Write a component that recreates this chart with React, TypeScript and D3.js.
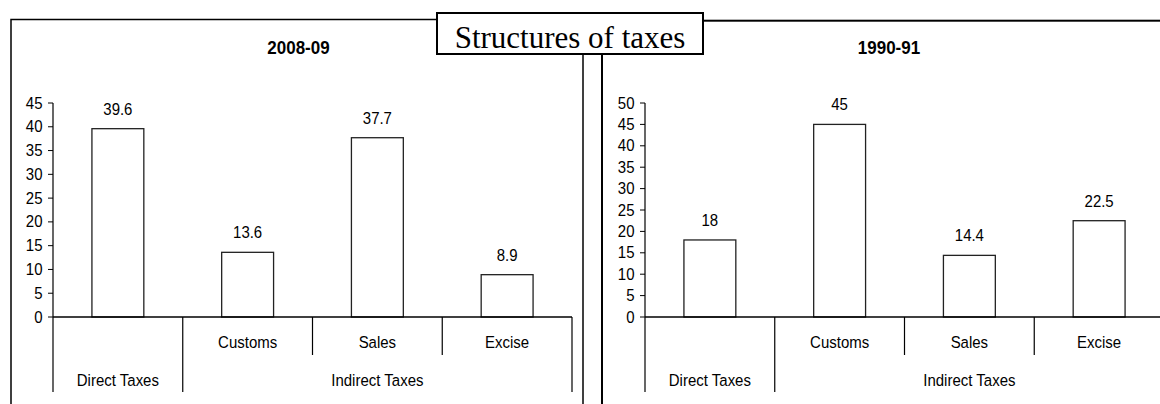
import React from "react";
import * as d3 from "d3";

const categories = ["Direct Taxes", "Customs", "Sales", "Excise"];
const subLabels = ["", "Customs", "Sales", "Excise"];
const groups = [
  { label: "Direct Taxes", from: 0, to: 0 },
  { label: "Indirect Taxes", from: 1, to: 3 },
];
const values2008 = [39.6, 13.6, 37.7, 8.9];
const values1990 = [18, 45, 14.4, 22.5];
const ticks2008 = [0, 5, 10, 15, 20, 25, 30, 35, 40, 45];
const ticks1990 = [0, 5, 10, 15, 20, 25, 30, 35, 40, 45, 50];
const mainTitle = "Structures of taxes";
const panelTitles = ["2008-09", "1990-91"];

const SANS = "'Liberation Sans', Arial, sans-serif";
const SERIF = "'Liberation Serif', 'Times New Roman', serif";

function T({ x, y, size = 15, bold = false, anchor = "middle", sy = 1.1, children }: any) {
  return (
    <text
      transform={`translate(${x},${y}) scale(1,${sy})`}
      fontFamily={SANS}
      fontSize={size}
      fontWeight={bold ? "bold" : "normal"}
      textAnchor={anchor}
      fill="#000"
    >
      {children}
    </text>
  );
}

function Chart({ axisX, values, ticks, title, titleX }: any) {
  const zeroY = 317;
  const topY = 103;
  const width = 519;
  const maxV = ticks[ticks.length - 1];
  const x = d3.scaleBand<string>().domain(categories).range([axisX, axisX + width]).paddingInner(0.6).paddingOuter(0.3);
  const y = d3.scaleLinear().domain([0, maxV]).range([zeroY, topY]);
  const step = x.step();
  const bounds = categories.map((_, i) => axisX + i * step).concat([axisX + width]);
  return (
    <g>
      <T x={titleX} y={53.5} size={17} bold sy={1.13}>{title}</T>
      {/* y axis */}
      <line x1={axisX} x2={axisX} y1={y(maxV)} y2={zeroY} stroke="#000" strokeWidth={1.2} />
      {ticks.map((t: number) => (
        <g key={t}>
          <line x1={axisX - 5} x2={axisX} y1={y(t)} y2={y(t)} stroke="#000" strokeWidth={1} />
          <T x={axisX - 10.5} y={y(t) + 5.5} anchor="end">{t}</T>
        </g>
      ))}
      {/* bars */}
      {values.map((v: number, i: number) => (
        <g key={i}>
          <rect
            x={x(categories[i])}
            y={y(v)}
            width={x.bandwidth()}
            height={zeroY - y(v)}
            fill="#fff"
            stroke="#222"
            strokeWidth={1.3}
          />
          <T x={(x(categories[i]) as number) + x.bandwidth() / 2} y={y(v) - 14}>{String(v)}</T>
        </g>
      ))}
      {/* x axis */}
      <line x1={axisX} x2={axisX + width} y1={zeroY} y2={zeroY} stroke="#000" strokeWidth={1.3} />
      {bounds.map((bx, i) => {
        const isGroupEdge = groups.some((g) => bounds[g.from] === bx || bounds[g.to + 1] === bx);
        return (
          <line key={i} x1={bx} x2={bx} y1={zeroY} y2={isGroupEdge ? 392 : 355} stroke="#000" strokeWidth={1.2} />
        );
      })}
      {subLabels.map((s, i) =>
        s ? (
          <T key={i} x={(x(categories[i]) as number) + x.bandwidth() / 2} y={347.5}>{s}</T>
        ) : null
      )}
      {groups.map((g) => (
        <T key={g.label} x={(bounds[g.from] + bounds[g.to + 1]) / 2} y={385.5}>{g.label}</T>
      ))}
    </g>
  );
}

export default function App() {
  return (
    <svg width={1160} height={404} style={{ position: "absolute", left: 0, top: 0, background: "#fff" }}>
      <rect x={0} y={0} width={1160} height={404} fill="#fff" />
      {/* panel borders */}
      <rect x={11} y={19.5} width={572} height={420} fill="none" stroke="#000" strokeWidth={1.5} />
      <rect x={602} y={20.7} width={600} height={420} fill="none" stroke="#000" strokeWidth={2} />
      <Chart axisX={53} values={values2008} ticks={ticks2008} title={panelTitles[0]} titleX={298.5} />
      <Chart axisX={645} values={values1990} ticks={ticks1990} title={panelTitles[1]} titleX={889} />
      {/* main title box */}
      <rect x={437} y={13} width={266} height={41} fill="#fff" stroke="#000" strokeWidth={2} />
      <text x={570} y={48} fontFamily={SERIF} fontSize={31} textAnchor="middle" fill="#000">
        {mainTitle}
      </text>
    </svg>
  );
}
